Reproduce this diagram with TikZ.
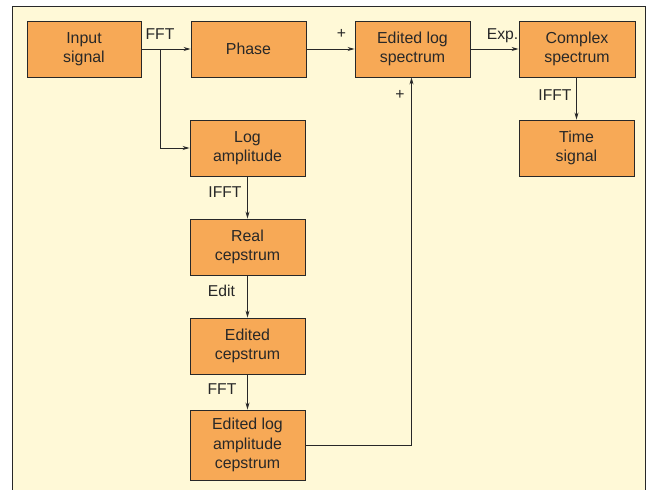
\documentclass[tikz,border=0pt]{standalone}
\usepackage{fontspec}
\setmainfont{Liberation Sans}
\usetikzlibrary{arrows.meta}
\definecolor{boxfill}{RGB}{247,169,86}
\definecolor{bgcream}{RGB}{255,249,215}
\definecolor{ink}{RGB}{40,40,40}
\tikzset{
  blk/.style={draw=ink, line width=0.9pt, fill=boxfill, text=ink, minimum width=115pt, minimum height=56pt, inner sep=0pt, align=center, font=\fontsize{15.9pt}{19.4pt}\selectfont},
  conn/.style={draw=ink, line width=0.9pt},
  arr/.style={conn, -{Stealth[length=7pt,width=4pt]}},
  lbl/.style={text=ink, inner sep=0pt, font=\fontsize{15.7pt}{19pt}\selectfont}
}
\begin{document}
\begin{tikzpicture}[x=1pt,y=-1pt]
\useasboundingbox (0,0) rectangle (651,490);
\begin{scope}
\clip (0,0) rectangle (651,490);
\draw[draw=ink, line width=1.4pt, fill=bgcream] (12.5,6.5) rectangle (645.5,520);
\end{scope}
\node[blk, minimum width=114pt] (in) at (84,49) {Input\\signal};
\node[blk] (ph) at (248.5,49) {Phase};
\node[blk] (els) at (412.5,49) {Edited log\\spectrum};
\node[blk, minimum width=116pt] (cs) at (577,49) {Complex\\spectrum};
\node[blk] (ts) at (576.5,148) {Time\\signal};
\node[blk] (la) at (247.5,148) {Log\\amplitude};
\node[blk] (rc) at (247.5,247) {Real\\cepstrum};
\node[blk] (ec) at (247.5,346) {Edited\\cepstrum};
\node[blk, minimum height=70pt] (elac) at (247.5,445) {Edited log\\amplitude\\cepstrum};
\coordinate (br) at (160,49);
\coordinate (up) at (411.5,445);
\draw[arr] (in.east) -- (ph.west);
\draw[arr] (br) |- (la.west);
\draw[arr] (ph.east) -- (els.west);
\draw[arr] (els.east) -- (cs.west);
\draw[arr] (cs.south -| ts.north) -- (ts.north);
\draw[arr] (la.south) -- (rc.north);
\draw[arr] (rc.south) -- (ec.north);
\draw[arr] (ec.south) -- (elac.north);
\draw[conn] (elac.east) -- (up);
\draw[arr] (up) -- (up |- els.south);
\node[lbl, anchor=base] (l1) at (160,39) {FFT};
\node[lbl] (l2) at (341.5,34) {+};
\node[lbl, anchor=base] (l3) at (502.5,39) {Exp.};
\node[lbl] (l4) at (400,95) {+};
\node[lbl, anchor=base] (l5) at (555,100) {IFFT};
\node[lbl, anchor=base] (l6) at (225,197) {IFFT};
\node[lbl, anchor=base] (l7) at (221.5,296) {Edit};
\node[lbl, anchor=base] (l8) at (222,394) {FFT};
\end{tikzpicture}
\end{document}
